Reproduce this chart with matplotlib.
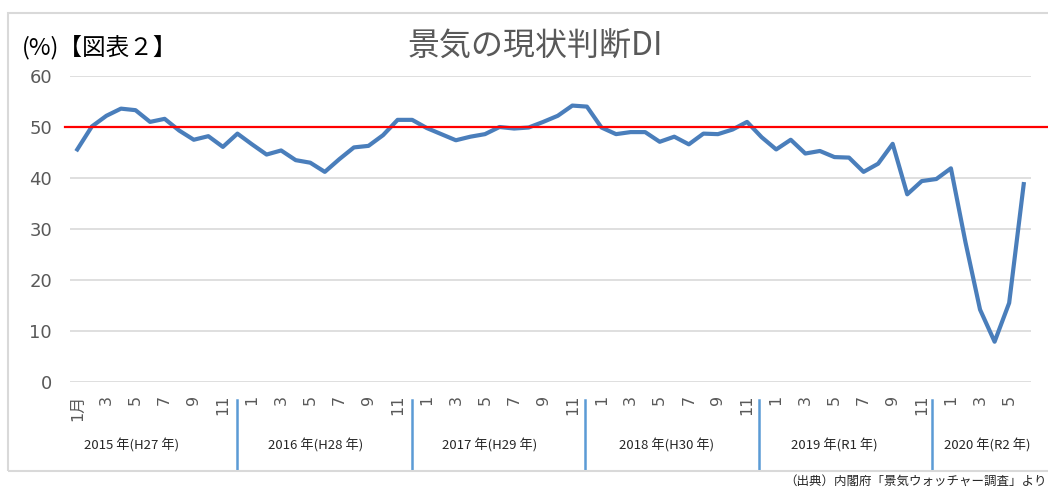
import matplotlib
matplotlib.use("Agg")
import matplotlib.pyplot as plt
from matplotlib.patches import Rectangle

plt.rcParams['font.family'] = ['Noto Sans CJK JP', 'DejaVu Sans']

# current DI (景気の現状判断DI), Jan 2015 - Jun 2020
di_2015 = [45.6, 50.1, 52.2, 53.6, 53.3, 51.0, 51.6, 49.3, 47.5, 48.2, 46.1, 48.7]
di_2016 = [46.6, 44.6, 45.4, 43.5, 43.0, 41.2, 43.7, 46.0, 46.3, 48.4, 51.4, 51.4]
di_2017 = [49.8, 48.6, 47.4, 48.1, 48.6, 50.0, 49.7, 49.9, 51.0, 52.2, 54.2, 54.0]
di_2018 = [49.9, 48.6, 49.0, 49.0, 47.1, 48.1, 46.6, 48.7, 48.6, 49.5, 51.0, 48.0]
di_2019 = [45.6, 47.5, 44.8, 45.3, 44.1, 44.0, 41.2, 42.8, 46.7, 36.8, 39.4, 39.8]
di_2020 = [41.9, 27.4, 14.2, 7.9, 15.5, 38.8]

year_labels = ["2015 年(H27 年)", "2016 年(H28 年)", "2017 年(H29 年)",
               "2018 年(H30 年)", "2019 年(R1 年)", "2020 年(R2 年)"]
month_labels = ["1", "3", "5", "7", "9", "11"]

THRESHOLD = 50

# hand placed like the original text boxes
YEAR_LABEL_X = [3.7, 16.4, 28.3, 40.5, 52.0, 62.5]
SEPARATOR_X = [11.0, 23.0, 34.9, 46.8, 58.7]

GRAY = '#595959'
GRID = '#D9D9D9'


def main():
    values = di_2015 + di_2016 + di_2017 + di_2018 + di_2019 + di_2020
    x = list(range(len(values)))

    fig = plt.figure(figsize=(10.48, 4.90), dpi=100)
    ax = fig.add_axes([70 / 1048, 108 / 490, 961 / 1048, 306 / 490])

    ax.plot(x, values, color='#4A7EBB', linewidth=3, solid_joinstyle='round',
            zorder=3)
    ax.plot([-0.85, 66.8], [THRESHOLD, THRESHOLD], color='red',
            linewidth=1.6, clip_on=False, zorder=4)

    ax.set_xlim(-0.5, len(values) - 0.5)
    ax.set_ylim(0, 60)
    ax.set_yticks(range(0, 61, 10))
    ax.grid(axis='y', color=GRID, linewidth=1.2)
    ax.set_axisbelow(True)
    for s in ax.spines.values():
        s.set_visible(False)

    ticks = x[::2]
    labels = []
    for i in ticks:
        lab = month_labels[(i % 12) // 2]
        labels.append(lab + "月" if i == 0 else lab)
    ax.set_xticks(ticks)
    ax.set_xticklabels(labels, rotation=90, fontsize=11.5, color=GRAY,
                       family=['DejaVu Sans', 'Noto Sans CJK JP'])
    ax.tick_params(axis='x', length=0, pad=9)
    ax.tick_params(axis='y', length=0, pad=13, labelsize=13, labelcolor=GRAY)
    for t in ax.get_yticklabels():
        t.set_family('DejaVu Sans')

    tr = ax.get_xaxis_transform()
    for xp in SEPARATOR_X:
        ax.plot([xp, xp], [-0.058, -0.288], color='#5B9BD5', linewidth=1.8,
                transform=tr, clip_on=False)
    for xp, lab in zip(YEAR_LABEL_X, year_labels):
        ax.text(xp, -0.206, lab, transform=tr, ha='center', va='center',
                fontsize=9.5, color='#262626')

    fig.text(535 / 1048, 1 - 47 / 490, "景気の現状判断DI", ha='center',
             va='center', fontsize=23, color=GRAY)
    fig.text(22 / 1048, 1 - 47 / 490, "(%)【図表２】", ha='left',
             va='center', fontsize=17, color='black')
    fig.text(0.999, 1 - 481 / 490, "（出典）内閣府「景気ウォッチャー調査」より",
             ha='right', va='center', fontsize=9, color='#262626')

    fig.add_artist(Rectangle((8 / 1048, 19 / 490), 1.1, 458 / 490,
                             fill=False, edgecolor=GRID, linewidth=1.5,
                             transform=fig.transFigure))

    fig.savefig('out.png', dpi=100)


if __name__ == '__main__':
    main()
